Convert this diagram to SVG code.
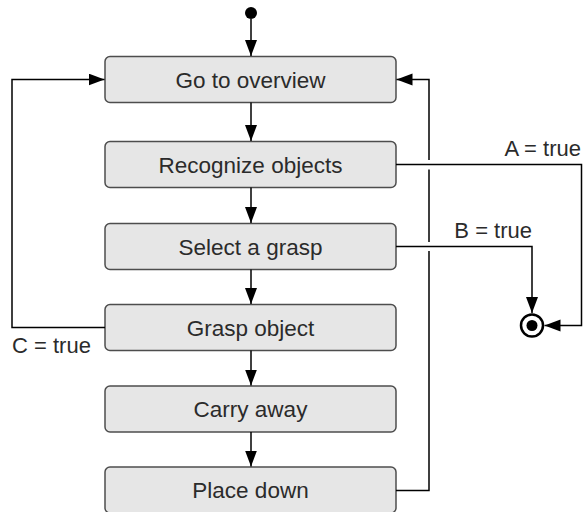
<svg xmlns="http://www.w3.org/2000/svg" width="584" height="512" viewBox="0 0 584 512">
  <style>
    .box { fill: #e6e6e6; stroke: #4d4d4d; stroke-width: 1.5; }
    .lbl { font-family: "Liberation Sans", Arial, sans-serif; font-size: 22.5px; fill: #2b2b2b; }
    .guard { font-size: 22px; }
    .mid { text-anchor: middle; }
    .edge { fill: none; stroke: #000; stroke-width: 1.5; }
  </style>
  <defs>
    <marker id="arrow" markerUnits="userSpaceOnUse" markerWidth="17" markerHeight="13" refX="16" refY="6" orient="auto">
      <path d="M0,0 L16,6 L0,12 z" fill="#000"/>
    </marker>
  </defs>

  <rect width="584" height="512" fill="#fff"/>

  <!-- start / end states -->
  <g id="start">
    <circle cx="251" cy="13" r="6" fill="#000"/>
  </g>
  <g id="end">
    <circle cx="532" cy="325.5" r="11" fill="#fff" stroke="#000" stroke-width="2.5"/>
    <circle cx="532" cy="325.5" r="5.5" fill="#000"/>
  </g>

  <!-- action nodes -->
  <g id="overview">
    <rect class="box" x="105" y="56.5" width="291" height="46" rx="5"/>
    <text class="lbl mid" x="250.5" y="87.5">Go to overview</text>
  </g>
  <g id="recognize">
    <rect class="box" x="105" y="141.5" width="291" height="46" rx="5"/>
    <text class="lbl mid" x="250.5" y="172.5">Recognize objects</text>
  </g>
  <g id="select">
    <rect class="box" x="105" y="223.5" width="291" height="46" rx="5"/>
    <text class="lbl mid" x="250.5" y="254.5">Select a grasp</text>
  </g>
  <g id="grasp">
    <rect class="box" x="105" y="304.5" width="291" height="46" rx="5"/>
    <text class="lbl mid" x="250.5" y="335.5">Grasp object</text>
  </g>
  <g id="carry">
    <rect class="box" x="105" y="386" width="291" height="46" rx="5"/>
    <text class="lbl mid" x="250.5" y="417">Carry away</text>
  </g>
  <g id="place">
    <rect class="box" x="105" y="467" width="291" height="46" rx="5"/>
    <text class="lbl mid" x="250.5" y="498">Place down</text>
  </g>

  <!-- connectors -->
  <g id="connectors">
    <path class="edge" d="M251,19 V56" marker-end="url(#arrow)"/>
    <path class="edge" d="M251,102.5 V141" marker-end="url(#arrow)"/>
    <path class="edge" d="M251,187.5 V223" marker-end="url(#arrow)"/>
    <path class="edge" d="M251,269.5 V304" marker-end="url(#arrow)"/>
    <path class="edge" d="M251,350.5 V385.5" marker-end="url(#arrow)"/>
    <path class="edge" d="M251,432 V466.5" marker-end="url(#arrow)"/>

    <!-- retry loop from Grasp object -->
    <path class="edge" d="M105,327.5 H12 V79.5 H104.5" marker-end="url(#arrow)"/>
    <!-- return loop from Place down, broken where the guards cross -->
    <path class="edge" d="M396,490.5 H429 V251 M429,242 V169.5 M429,160 V79.5 H396.5" marker-end="url(#arrow)"/>

    <!-- A = true -->
    <path class="edge" d="M396,164.5 H581.5 V325.5 H544.5" stroke-width="2.2" marker-end="url(#arrow)"/>
    <!-- B = true -->
    <path class="edge" d="M396,246.5 H532 V313" marker-end="url(#arrow)"/>
  </g>

  <!-- guard labels -->
  <text class="lbl guard" x="581" y="156" text-anchor="end">A = true</text>
  <text class="lbl guard" x="532" y="238" text-anchor="end">B = true</text>
  <text class="lbl guard" x="12" y="353">C = true</text>
</svg>
